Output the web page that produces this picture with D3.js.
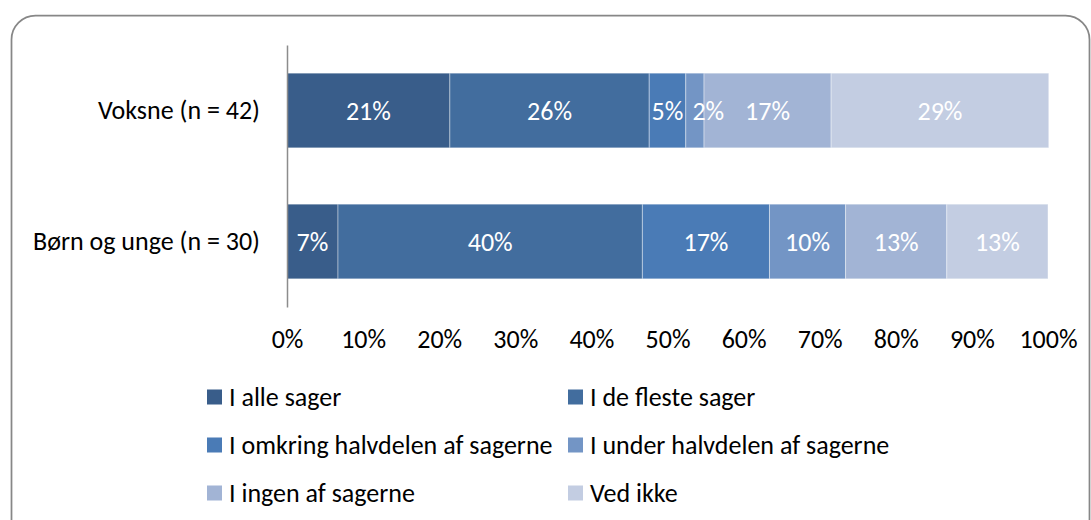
<!DOCTYPE html>
<html>
<head>
<meta charset="utf-8">
<script src="https://cdn.jsdelivr.net/npm/d3@7"></script>
<style>
  body { margin: 0; background: #fff; }
  svg { display: block; }
  svg text { font-family: Calibri, Carlito, "Open Sans", sans-serif; }
</style>
</head>
<body>
<svg width="1091" height="520"></svg>
<script>
// Data (share of answers in %, per group)
const groups = ['Voksne (n = 42)', 'Børn og unge (n = 30)'];
const answers = [
	'I alle sager',
	'I de fleste sager',
	'I omkring halvdelen af sagerne',
	'I under halvdelen af sagerne',
	'I ingen af sagerne',
	'Ved ikke',
];
const voksne = [21.4, 26.2, 4.8, 2.4, 16.7, 28.6];
const born = [6.7, 40.0, 16.7, 10.0, 13.3, 13.3];
const colors = ['#395d8a', '#426d9e', '#4a7bb6', '#7395c5', '#a2b4d5', '#c3cde2'];
const ticks = [0, 10, 20, 30, 40, 50, 60, 70, 80, 90, 100];

const svg = d3.select('svg');
const width = 1091;
const margin = { left: 287, right: 43 };
const fontSize = 26;

// outer frame with rounded corners (runs off the bottom of the picture)
svg.append('rect')
	.attr('x', 11.5)
	.attr('y', 15.5)
	.attr('width', 1078)
	.attr('height', 540)
	.attr('rx', 24)
	.attr('fill', 'none')
	.attr('stroke', '#878787')
	.attr('stroke-width', 1.75);

const x = d3.scaleLinear().domain([0, 100]).range([margin.left, width - margin.right]);
const y = d3.scaleBand()
	.domain(groups)
	.range([45, 307])
	.paddingInner(0.43)
	.paddingOuter(0.215);

const color = d3.scaleOrdinal().domain(answers).range(colors);

const rows = [voksne, born].map((vals, i) => {
	let acc = 0;
	return vals.map((v, j) => {
		const seg = { group: groups[i], answer: answers[j], x0: acc, x1: acc + v, v };
		acc += v;
		return seg;
	});
});

const g = svg.append('g');

// bars
g.selectAll('rect.seg')
	.data(rows.flat())
	.enter()
	.append('rect')
	.attr('class', 'seg')
	.attr('x', (d) => x(d.x0))
	.attr('y', (d) => y(d.group))
	.attr('width', (d) => x(d.x1) - x(d.x0))
	.attr('height', y.bandwidth())
	.attr('fill', (d) => color(d.answer))
	.attr('stroke', 'rgba(255,255,255,0.4)')
	.attr('stroke-width', 1);

// value labels, nudged right when they would collide with the previous one
rows.forEach((row) => {
	let prevEnd = -Infinity;
	row.forEach((d) => {
		const t = g.append('text')
			.attr('class', 'val')
			.attr('y', y(d.group) + y.bandwidth() / 2)
			.attr('dy', '0.35em')
			.attr('text-anchor', 'middle')
			.attr('fill', '#fff')
			.attr('font-size', fontSize)
			.text(`${Math.round(d.v)}%`);
		const w = t.node().getComputedTextLength();
		let cx = (x(d.x0) + x(d.x1)) / 2;
		if (cx - w / 2 < prevEnd + 9) cx = prevEnd + 9 + w / 2;
		t.attr('x', cx);
		prevEnd = cx + w / 2;
	});
});

// category axis
const yAxis = g.append('g')
	.attr('transform', `translate(${margin.left},0)`)
	.call(d3.axisLeft(y).tickSize(0).tickPadding(27).tickSizeOuter(0));
yAxis.select('.domain').attr('stroke', '#8c8c8c').attr('stroke-width', 1.5);
yAxis.selectAll('text').attr('font-size', fontSize).attr('fill', '#000');

// percent axis
const xAxis = g.append('g')
	.attr('transform', 'translate(0,307)')
	.call(d3.axisBottom(x).tickValues(ticks).tickFormat((d) => `${d}%`).tickSize(0).tickPadding(23));
xAxis.select('.domain').remove();
xAxis.selectAll('text').attr('font-size', fontSize).attr('fill', '#000');

// legend in two columns
const legendX = [207, 568];
const legendY = [397, 445, 493];
const legend = svg.selectAll('g.legend')
	.data(answers)
	.enter()
	.append('g')
	.attr('class', 'legend')
	.attr('transform', (d, i) => `translate(${legendX[i % 2]},${legendY[Math.floor(i / 2)]})`);
legend.append('rect')
	.attr('x', 0)
	.attr('y', -7.5)
	.attr('width', 15)
	.attr('height', 15)
	.attr('fill', (d) => color(d));
legend.append('text')
	.attr('x', 22)
	.attr('dy', '0.35em')
	.attr('font-size', fontSize)
	.attr('fill', '#000')
	.text((d) => d);
</script>
</body>
</html>
